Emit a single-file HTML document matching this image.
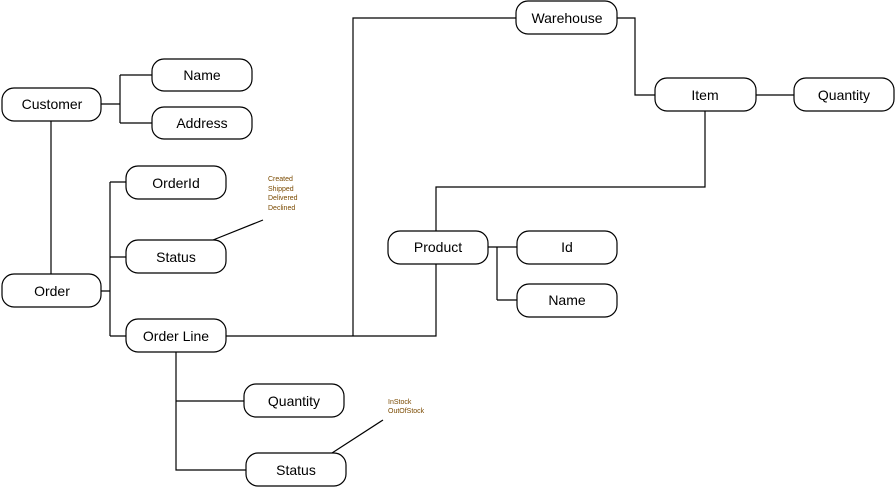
<!DOCTYPE html>
<html><head><meta charset="utf-8"><style>
html,body{margin:0;padding:0;background:#fff;}
svg{display:block;}
text{font-family:"Liberation Sans",sans-serif;font-size:14px;fill:#000;}
.s{font-size:7px;fill:#7a4a00;}
</style></head><body>
<svg width="896" height="488" viewBox="0 0 896 488">
<g fill="none" stroke="#000" stroke-width="1.2">
<path d="M101 104H120M120 75V123M120 75H152M120 123H152"/>
<path d="M51 121V274"/>
<path d="M101 291H110M110 182V336M110 182H126M110 257H126M110 336H126"/>
<path d="M226 336H436V264M353 336V18H516"/>
<path d="M436 231V187H705V111"/>
<path d="M617 18H635V95H655"/>
<path d="M756 95H794"/>
<path d="M488 247H497M497 247V300M497 247H517M497 300H517"/>
<path d="M176 352V470H246M176 401H244"/>
<path d="M213 240L263 220"/>
<path d="M332 453L383 420"/>
</g>
<g fill="#fff" stroke="#000" stroke-width="1.2">
<rect x="2" y="88" width="99" height="33" rx="12"/>
<rect x="152" y="59" width="100" height="32" rx="12"/>
<rect x="152" y="107" width="100" height="32" rx="12"/>
<rect x="2" y="274" width="99" height="33" rx="12"/>
<rect x="126" y="166" width="100" height="33" rx="12"/>
<rect x="126" y="240" width="100" height="33" rx="12"/>
<rect x="126" y="319" width="100" height="33" rx="12"/>
<rect x="244" y="384" width="100" height="33" rx="12"/>
<rect x="246" y="453" width="100" height="33" rx="12"/>
<rect x="516" y="1" width="101" height="33" rx="12"/>
<rect x="655" y="78" width="101" height="33" rx="12"/>
<rect x="794" y="78" width="100" height="33" rx="12"/>
<rect x="388" y="231" width="100" height="33" rx="12"/>
<rect x="517" y="231" width="100" height="33" rx="12"/>
<rect x="517" y="284" width="100" height="33" rx="12"/>
</g>
<g text-anchor="middle">
<text x="52" y="109">Customer</text>
<text x="202" y="80">Name</text>
<text x="202" y="128">Address</text>
<text x="52" y="296">Order</text>
<text x="176" y="188">OrderId</text>
<text x="176" y="262">Status</text>
<text x="176" y="341">Order Line</text>
<text x="294" y="406">Quantity</text>
<text x="296" y="475">Status</text>
<text x="567" y="23">Warehouse</text>
<text x="705" y="100">Item</text>
<text x="844" y="100">Quantity</text>
<text x="438" y="252">Product</text>
<text x="567" y="252">Id</text>
<text x="567" y="305">Name</text>
</g>
<text class="s" x="268" y="181">Created</text>
<text class="s" x="268" y="191">Shipped</text>
<text class="s" x="268" y="200">Delivered</text>
<text class="s" x="268" y="210">Declined</text>
<text class="s" x="388" y="404">InStock</text>
<text class="s" x="388" y="413">OutOfStock</text>
</svg>
</body></html>
